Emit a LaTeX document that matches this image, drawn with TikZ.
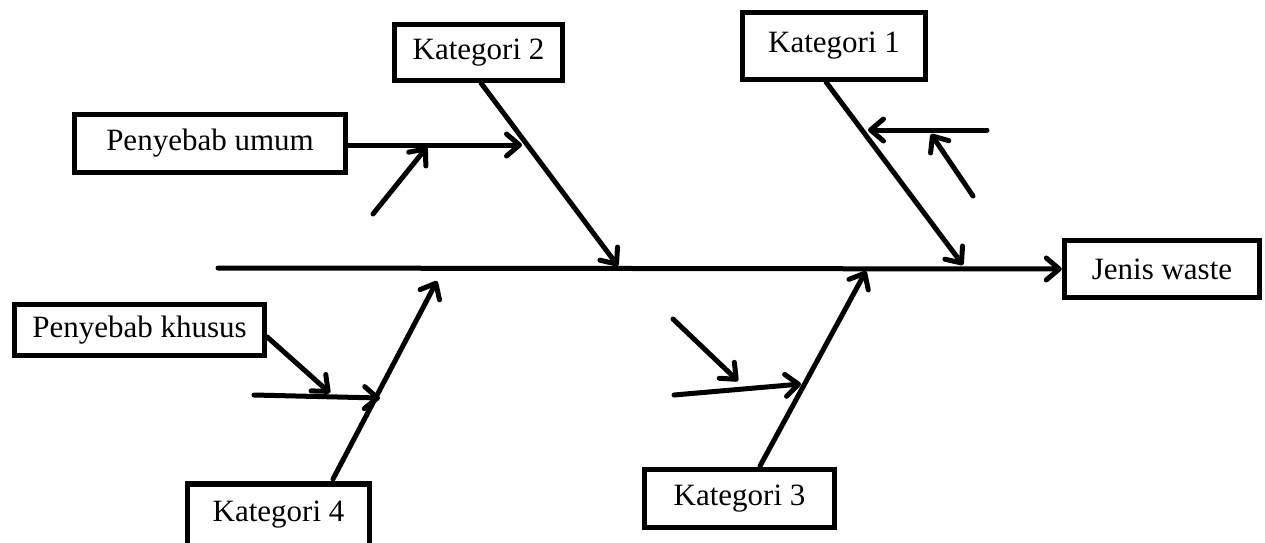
\documentclass[tikz,border=0pt]{standalone}
\usepackage{fontspec}
\setmainfont{Liberation Serif}
\usetikzlibrary{arrows.meta}
\begin{document}
\begin{tikzpicture}[x=1pt,y=-1pt,
  box/.style={draw, line width=5.5pt, fill=white, rectangle, inner sep=0pt,
    font=\fontsize{31}{34}\selectfont, anchor=center},
  arr/.style={line width=5pt, -{Straight Barb[length=13pt,width=22pt,line cap=round,line join=round]}},
  line cap=round]
\useasboundingbox (0,0) rectangle (1265,542);
% boxes
\node[box, minimum width=168pt, minimum height=56pt] (k2) at (478.5,52.5) {Kategori 2};
\node[box, minimum width=183pt, minimum height=67pt] (k1) at (834,46) {\raisebox{5pt}{Kategori 1}};
\node[box, minimum width=271pt, minimum height=58pt] (pu) at (210,143.5) {Penyebab umum};
\node[box, minimum width=195pt, minimum height=57pt] (jw) at (1162,269) {Jenis waste};
\node[box, minimum width=250pt, minimum height=51pt] (pk) at (139.5,330) {Penyebab khusus};
\node[box, minimum width=182pt, minimum height=62pt] (k4) at (278.5,515) {Kategori 4};
\node[box, minimum width=190pt, minimum height=58pt] (k3) at (739.5,498.5) {Kategori 3};
% spine and bone points
\coordinate (spL) at (218,268);
\coordinate (k2a) at (481,83);   \coordinate (k2b) at (618,266);
\coordinate (k1a) at (826,82);   \coordinate (k1b) at (963,265);
\coordinate (k4a) at (333,479);  \coordinate (k4b) at (437,281);
\coordinate (k3a) at (760,466);  \coordinate (k3b) at (866,271);
\coordinate (puT) at (522,145);
\coordinate (s1a) at (373,214);  \coordinate (s1b) at (427,147);
\coordinate (c1a) at (987,130);  \coordinate (c1b) at (868,130);
\coordinate (c2a) at (973,196);  \coordinate (c2b) at (931,134);
\coordinate (pkT) at (330,393);
\coordinate (h4a) at (254,395);  \coordinate (h4b) at (380,398);
\coordinate (d3a) at (673,319);  \coordinate (d3b) at (738,381);
\coordinate (h3a) at (674,395);  \coordinate (h3b) at (801,384);
% spine
\draw[arr] (spL) -- (jw.west);
% category bones
\draw[arr] (k2a) -- (k2b);
\draw[arr] (k1a) -- (k1b);
\draw[arr] (k4a) -- (k4b);
\draw[arr] (k3a) -- (k3b);
% causes
\draw[arr] (pu.east |- puT) -- (puT);
\draw[arr] (s1a) -- (s1b);
\draw[arr] (c1a) -- (c1b);
\draw[arr] (c2a) -- (c2b);
\draw[arr] (pk.east |- 0,337) -- (pkT);
\draw[arr] (h4a) -- (h4b);
\draw[arr] (d3a) -- (d3b);
\draw[arr] (h3a) -- (h3b);
\end{tikzpicture}
\end{document}
